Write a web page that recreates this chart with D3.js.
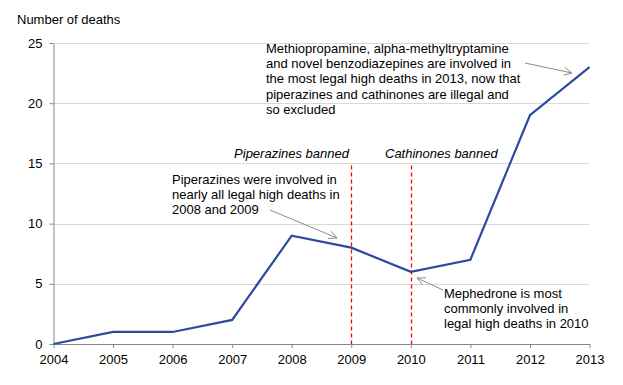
<!DOCTYPE html>
<html><head><meta charset="utf-8">
<script src="https://cdn.jsdelivr.net/npm/d3@7"></script>
<style>body{margin:0;background:#fff}svg text{font-family:"Liberation Sans",Arial,sans-serif;fill:#000}</style>
</head><body><svg id="c" width="623" height="385"></svg>
<script>
const years = [2004,2005,2006,2007,2008,2009,2010,2011,2012,2013];
const deaths = [0,1,1,2,9,8,6,7,19,23];
const yTicks = [0,5,10,15,20,25];
const banYears = [2009,2010];
const banLabels = ["Piperazines banned","Cathinones banned"];
const noteLines = [
  ["Piperazines were involved in","nearly all legal high deaths in","2008 and 2009"],
  ["Methiopropamine, alpha-methyltryptamine","and novel benzodiazepines are involved in","the most legal high deaths in 2013, now that","piperazines and cathinones are illegal and","so excluded"],
  ["Mephedrone is most","commonly involved in","legal high deaths in 2010"]
];

const svg = d3.select("#c");
const x = d3.scaleLinear().domain([2004,2013]).range([53.5,589.5]);
const y = d3.scaleLinear().domain([0,25]).range([344,43]);

// gridlines
svg.append("g").selectAll("line").data(yTicks.filter(d=>d>0)).join("line")
  .attr("x1",x(2004)).attr("x2",x(2013)).attr("y1",d=>Math.round(y(d))+0.5).attr("y2",d=>Math.round(y(d))+0.5)
  .style("stroke","#d9d9d9").attr("stroke-width",1);

// axes
const yAxis = svg.append("g").attr("transform",`translate(${x(2004)},0)`)
  .call(d3.axisLeft(y).tickValues(yTicks).tickSize(4).tickPadding(7).tickSizeOuter(0));
const xAxis = svg.append("g").attr("transform",`translate(0,${y(0)})`)
  .call(d3.axisBottom(x).tickValues(years).tickFormat(d3.format("d")).tickSize(4).tickPadding(7).tickSizeOuter(0));
[yAxis,xAxis].forEach(a=>{
  a.selectAll("path,line").style("stroke","#868686");
  a.selectAll("text").attr("font-size","13px").attr("font-family","Liberation Sans, Arial, sans-serif").style("fill","#000");
});

svg.append("text").attr("x",17).attr("y",24).attr("font-size","13px").text("Number of deaths");

// ban lines
const banLabelPos = [{x:349,anchor:"end"},{x:385,anchor:"start"}];
banYears.forEach((yr,i)=>{
  svg.append("line").attr("x1",Math.round(x(yr))+0.5).attr("x2",Math.round(x(yr))+0.5)
    .attr("y1",y(15)+2).attr("y2",y(0))
    .style("stroke","#ff0000").style("stroke-width","1.3px").style("stroke-dasharray","4,3");
  svg.append("text").attr("x",banLabelPos[i].x).attr("y",158).attr("text-anchor",banLabelPos[i].anchor)
    .attr("font-size","13px").attr("font-style","italic").text(banLabels[i]);
});

// line
svg.append("path").datum(years.map((d,i)=>[d,deaths[i]]))
  .attr("d",d3.line().x(d=>x(d[0])).y(d=>y(d[1])))
  .style("fill","none").style("stroke","#2e4a9c").style("stroke-width","2.2px");

// notes
const notePos = [[172,184],[266,53],[444,298]];
noteLines.forEach((lines,k)=>{
  const t = svg.append("text").attr("font-size","13px");
  lines.forEach((l,i)=>t.append("tspan").attr("x",notePos[k][0]).attr("y",notePos[k][1]+i*15.2).text(l));
});

// arrows
const arrows = [[270,210,337,238],[443,290,417,278],[525,63,572,73]];
arrows.forEach(([x1,y1,x2,y2])=>{
  const g = svg.append("g").style("stroke","#8c8c8c").style("stroke-width","1px").style("fill","none");
  g.append("line").attr("x1",x1).attr("y1",y1).attr("x2",x2).attr("y2",y2);
  const a = Math.atan2(y2-y1,x2-x1), L=9, s=0.45;
  g.append("path").attr("d",`M${x2-L*Math.cos(a-s)},${y2-L*Math.sin(a-s)}L${x2},${y2}L${x2-L*Math.cos(a+s)},${y2-L*Math.sin(a+s)}`);
});
</script></body></html>
